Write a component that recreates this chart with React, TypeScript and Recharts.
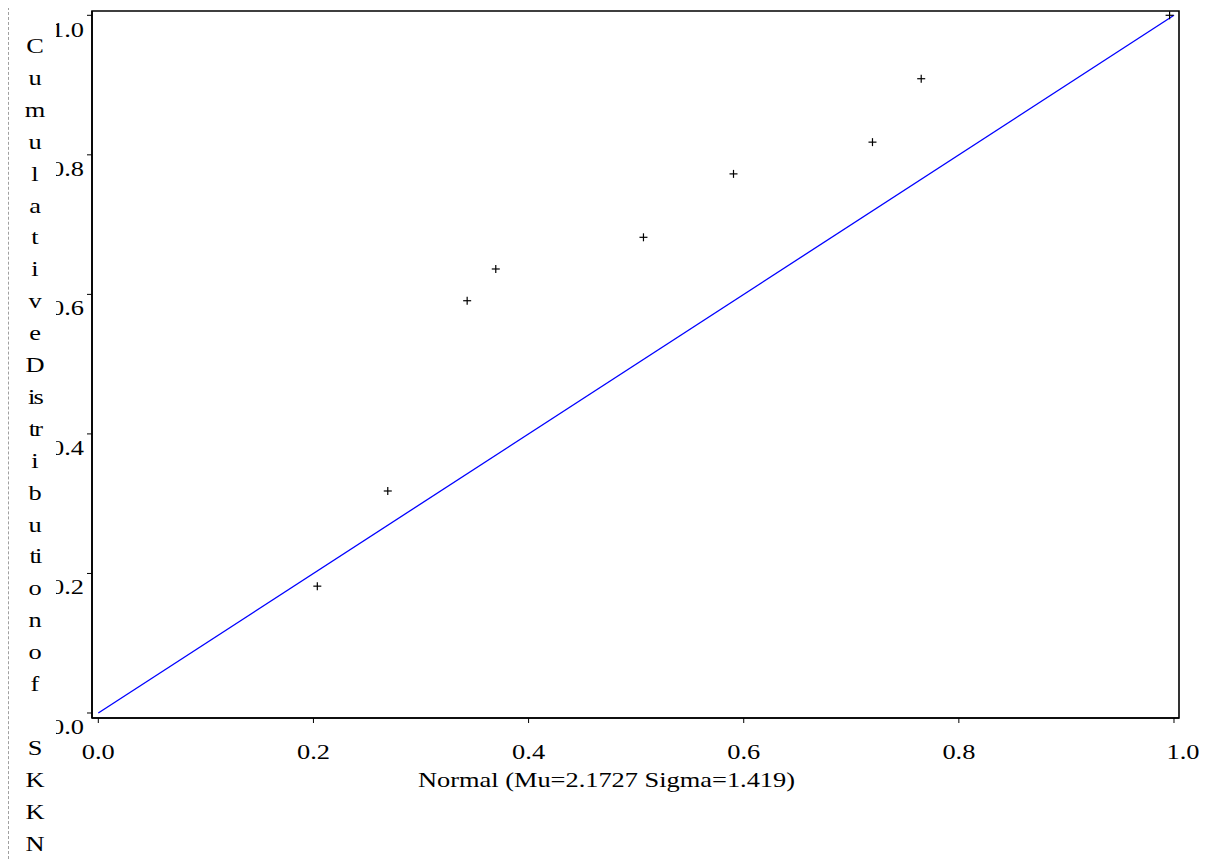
import React from 'react';
import { ComposedChart, Scatter, XAxis, YAxis, ReferenceArea } from 'recharts';

const normalQuantiles = [0.2036, 0.2691, 0.3429, 0.3695, 0.5068, 0.5905, 0.7197, 0.765, 0.9959];
const cumulative = [0.1818, 0.3182, 0.5909, 0.6364, 0.6818, 0.7727, 0.8182, 0.9091, 1.0];
const refLineX = [0, 1];
const refLineY = [0, 1];
const xTicks = [0, 0.2, 0.4, 0.6, 0.8, 1.0];
const yTicks = [0, 0.2, 0.4, 0.6, 0.8, 1.0];
const xTitle = 'Normal (Mu=2.1727 Sigma=1.419)';
const yTitleLines = ['C', 'u', 'm', 'u', 'l', 'a', 't', 'i', 'v', 'e', 'D', 'is', 'tr', 'i', 'b', 'u', 'ti', 'o', 'n', 'o', 'f', '', 'S', 'K', 'K', 'N'];

const points = normalQuantiles.map((x, i) => ({ x, y: cumulative[i] }));
const diag = refLineX.map((x, i) => ({ x, y: refLineY[i] }));

const xDomain: [number, number] = [-0.00586, 1.00465];
const yDomain: [number, number] = [-0.00717, 1.00616];

const FONT = '"Liberation Serif", "Times New Roman", serif';
const FS = 22;
const SX = 1.2;

const W = 1195;
const H = 858;

const PlusShape = (props: any) => {
  const { cx, cy } = props;
  if (cx == null || cy == null) return <g />;
  return (
    <g>
      <line x1={cx - 4} y1={cy} x2={cx + 4} y2={cy} stroke="#000" strokeWidth={1.2} />
      <line x1={cx} y1={cy - 4} x2={cx} y2={cy + 4} stroke="#000" strokeWidth={1.2} />
    </g>
  );
};

const NoShape = () => <g />;

const SText = ({ x, y, anchor, spacing, children }: any) => (
  <text
    transform={`translate(${x},${y}) scale(${SX},1)`}
    x={0}
    y={0}
    textAnchor={anchor}
    fontFamily={FONT}
    fontSize={FS}
    letterSpacing={spacing || 0}
    fill="#000"
  >
    {children}
  </text>
);

const YTick = (props: any) => {
  const { x, y, payload, index } = props;
  const id = `yclip-${index}`;
  return (
    <g>
      <defs>
        <clipPath id={id}>
          <rect x={48} y={y - 20} width={60} height={60} />
        </clipPath>
      </defs>
      <g clipPath={`url(#${id})`}>
        <SText x={x - 3} y={y + 21} anchor="end">
          {Number(payload.value).toFixed(1)}
        </SText>
      </g>
    </g>
  );
};

const XTick = (props: any) => {
  const { x, y, payload } = props;
  const shift = payload.value === 1 ? 9 : 0;
  return (
    <SText x={x + shift} y={y + 36} anchor="middle">
      {Number(payload.value).toFixed(1)}
    </SText>
  );
};

const XTitle = (props: any) => {
  const vb = props.viewBox || {};
  return (
    <SText x={vb.x + vb.width / 2 - 29} y={vb.y + 69} anchor="middle">
      {xTitle}
    </SText>
  );
};

const YTitle = (props: any) => {
  const vb = props.viewBox || {};
  const cx = 27;
  return (
    <g>
      {yTitleLines.map((s, i) =>
        s ? (
          <SText key={i} x={cx} y={vb.y + 42 + i * 31.9} anchor="middle" spacing={s.length > 1 ? -1.5 : 0}>
            {s}
          </SText>
        ) : null
      )}
    </g>
  );
};

export default function App() {
  return (
    <div
      style={{
        position: 'relative',
        width: 1191,
        height: 852,
        marginTop: -1,
        borderLeft: '1px dashed #a0a0a0',
        borderTop: '1px dashed #a0a0a0',
        boxSizing: 'border-box',
        background: '#fff',
      }}
    >
      <div style={{ position: 'absolute', left: -1, top: -1 }}>
        <ComposedChart width={W} height={H} margin={{ top: 4, right: 24, bottom: 87, left: 44 }}>
          <XAxis
            dataKey="x"
            type="number"
            domain={xDomain}
            ticks={xTicks}
            allowDataOverflow
            height={60}
            tickSize={5}
            tickMargin={0}
            tick={<XTick />}
            axisLine={{ stroke: '#000', strokeWidth: 1.6 }}
            tickLine={{ stroke: '#000', strokeWidth: 1 }}
            label={<XTitle />}
          />
          <YAxis
            dataKey="y"
            type="number"
            domain={yDomain}
            ticks={yTicks}
            allowDataOverflow
            width={40}
            tickSize={5}
            tickMargin={0}
            tick={<YTick />}
            axisLine={{ stroke: '#000', strokeWidth: 1.6 }}
            tickLine={{ stroke: '#000', strokeWidth: 1 }}
            label={<YTitle />}
          />
          <ReferenceArea
            x1={xDomain[0]}
            x2={xDomain[1]}
            y1={yDomain[0]}
            y2={yDomain[1]}
            fill="none"
            fillOpacity={0}
            stroke="#000"
            strokeWidth={1.6}
            ifOverflow="visible"
          />
          <Scatter
            data={diag}
            dataKey="y"
            line={{ stroke: '#0000ff', strokeWidth: 1.3 }}
            shape={<NoShape />}
            isAnimationActive={false}
          />
          <Scatter data={points} dataKey="y" shape={<PlusShape />} isAnimationActive={false} />
        </ComposedChart>
      </div>
    </div>
  );
}
